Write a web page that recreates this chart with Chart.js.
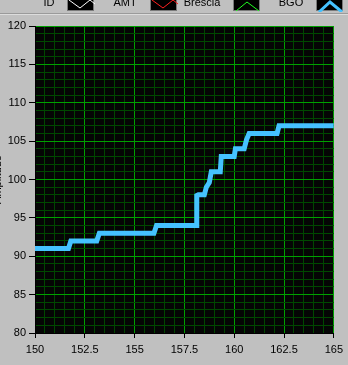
<!DOCTYPE html>
<html>
<head>
<meta charset="utf-8">
<script src="https://cdn.jsdelivr.net/npm/chart.js@4/dist/chart.umd.min.js"></script>
<style>
  body { margin: 0; width: 348px; height: 365px; overflow: hidden; background: #c0c0c0; position: relative;
         font-family: "Liberation Sans", Arial, sans-serif; }
  #chart { position: absolute; left: -9px; top: 0; }
  .lbl { position: absolute; top: -4px; font-size: 11px; line-height: 13px; color: #000; transform: translateX(-50%); white-space: nowrap; }
  .box { position: absolute; top: -2px; width: 27px; height: 13px; background: #000; border: 1px solid #7a7a7a; box-sizing: border-box; }
  .box svg { position: absolute; left: 0; top: 0; }
  .rule { position: absolute; left: 0; top: 13px; width: 348px; height: 1px; background: #9a9a9a; }
  .rule2 { position: absolute; left: 0; top: 14px; width: 348px; height: 1px; background: #dcdcdc; }
</style>
</head>
<body>
<canvas id="chart" width="357" height="365"></canvas>
<div class="rule"></div><div class="rule2"></div>
<div id="legend"></div>
<script>
// ── BGO trace, amplitude vs position ───────────────────────────────────────────
const xs = [150, 151.68, 151.8, 153.1, 153.23, 155.97, 156.1, 158.1, 158.12, 158.2, 158.5, 158.6,
            158.75, 158.85, 159.3, 159.35, 160.0, 160.06, 160.5, 160.62, 160.75, 162.15, 162.25, 165];
const ys = [91, 91, 92, 92, 93, 93, 94, 94, 97.9, 98, 98, 99,
            99.6, 101, 101, 103, 103, 104, 104, 105.2, 106, 106, 107, 107];

const seriesNames  = ['ID', 'AMT', 'Brescia', 'BGO'];
const seriesColors = ['#ffffff', '#ff2020', '#20ff20', '#45c2ff'];

const xMin = 150, xMax = 165, xMajor = 2.5, xMinor = 0.5;
const yMin = 80,  yMax = 120, yMajor = 5,   yMinor = 1;

// legend strip along the top (LabVIEW style plot legend, cut by the window edge)
const legendPos = [ { lx: 49, bx: 67 }, { lx: 125, bx: 150 }, { lx: 202, bx: 233 }, { lx: 291, bx: 316 } ];
const icons = ['1,1 12,9 22,1 27,5', '1,1 12,9 22,1 27,5', '2,12 13,3 25,12', '2,13 13,3 25,13'];
document.getElementById('legend').innerHTML = seriesNames.map((n, i) =>
  `<div class="lbl" style="left:${legendPos[i].lx}px">${n}</div>` +
  `<div class="box" style="left:${legendPos[i].bx}px"><svg width="27" height="13"><polyline points="${icons[i]}" fill="none" stroke="${seriesColors[i]}" stroke-width="${i === 3 ? 3 : 1}"/></svg></div>`
).join('');

const isMajor = (v, step) => Math.abs(v / step - Math.round(v / step)) < 1e-6;
const font = { family: '"Liberation Sans", Arial, sans-serif', size: 11 };

const plotBg = {
  id: 'plotBg',
  beforeDraw(chart) {
    const { ctx, chartArea: a } = chart;
    ctx.save();
    ctx.fillStyle = '#050505';
    ctx.fillRect(a.left, a.top, a.right - a.left, a.bottom - a.top);
    ctx.restore();
  }
};

new Chart(document.getElementById('chart'), {
  type: 'scatter',
  data: {
    datasets: [{
      label: 'BGO',
      data: xs.map((x, i) => ({ x, y: ys[i] })),
      showLine: true,
      borderColor: '#45c2ff',
      borderWidth: 5,
      borderJoinStyle: 'miter',
      pointRadius: 0,
      tension: 0
    }]
  },
  options: {
    responsive: false,
    animation: false,
    layout: { padding: { top: 26, right: 14, bottom: 0, left: 0 } },
    plugins: { legend: { display: false }, tooltip: { enabled: false } },
    scales: {
      x: {
        type: 'linear', min: xMin, max: xMax,
        afterFit: s => { s.height = 32; },
        ticks: {
          stepSize: xMinor, autoSkip: false, maxRotation: 0, color: '#000', font, padding: 5,
          callback: v => isMajor(v, xMajor) ? String(v) : ''
        },
        grid: {
          color: c => isMajor(c.tick.value, xMajor) ? '#00a000' : '#004800',
          tickColor: c => isMajor(c.tick.value, xMajor) ? '#000' : 'rgba(0,0,0,0)',
          tickLength: 5
        },
        border: { color: '#000' }
      },
      y: {
        type: 'linear', min: yMin, max: yMax,
        afterFit: s => { s.width = 44; },
        title: { display: true, text: 'Amplitude', color: '#000', font, padding: 0 },
        ticks: {
          stepSize: yMinor, autoSkip: false, color: '#000', font, padding: 3,
          callback: v => isMajor(v, yMajor) ? String(v) : ''
        },
        grid: {
          color: c => isMajor(c.tick.value, yMajor) ? '#00a000' : '#004800',
          tickColor: c => isMajor(c.tick.value, yMajor) ? '#000' : 'rgba(0,0,0,0)',
          tickLength: 6
        },
        border: { color: '#000' }
      }
    }
  },
  plugins: [plotBg]
});
</script>
</body>
</html>
